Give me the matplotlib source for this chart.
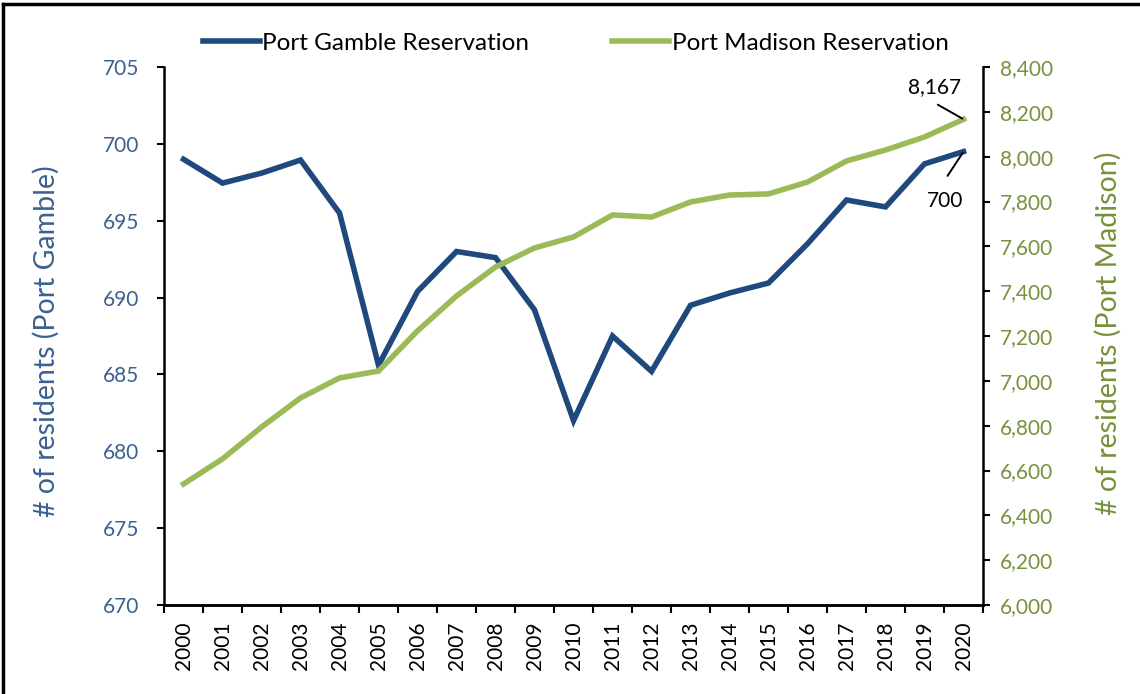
import matplotlib
matplotlib.use("Agg")
import matplotlib.pyplot as plt
from matplotlib.lines import Line2D

plt.rcParams['font.family'] = ['Lato', 'DejaVu Sans']

years = [str(y) for y in range(2000, 2021)]
port_gamble = [699.0, 697.45, 698.1, 698.95, 695.5, 685.6, 690.4, 693.0, 692.6, 689.2,
               682.0, 687.5, 685.2, 689.5, 690.3, 690.95, 693.5, 696.35, 695.9, 698.7, 699.5]
port_madison = [6540, 6652, 6794, 6924, 7013, 7044, 7223, 7379, 7508, 7593,
                7642, 7740, 7731, 7798, 7829, 7834, 7887, 7981, 8030, 8088, 8167]
left_ticks = [670, 675, 680, 685, 690, 695, 700, 705]
right_ticks = list(range(6000, 8401, 200))

blue = '#1F497D'
green = '#9BBB59'
blue_txt = '#3A6190'
green_txt = '#76923C'

fig = plt.figure(figsize=(11.4, 6.94), dpi=100)
ax = fig.add_axes([0.1439, 0.1282, 0.7184, 0.7752])
ax2 = ax.twinx()

x = list(range(len(years)))
ax.plot(x, port_gamble, color=blue, lw=4.0, solid_joinstyle='miter', zorder=3)
ax2.plot(x, port_madison, color=green, lw=4.0, solid_joinstyle='miter', zorder=3)

ax.set_xlim(-0.5, len(years) - 0.5)
ax.set_ylim(670, 705)
ax2.set_ylim(6000, 8400)
ax.set_yticks(left_ticks)
ax2.set_yticks(right_ticks)
ax2.set_yticklabels([f"{v:,}" for v in right_ticks])

ax.set_xticks(x)
ax.set_xticklabels(years, rotation=90, fontsize=15, color='black')
ax.set_xticks([i - 0.5 for i in range(len(years) + 1)], minor=True)
ax.tick_params(axis='x', which='major', length=0, pad=12)
ax.tick_params(axis='x', which='minor', length=6, width=1.5, direction='out')

ax.tick_params(axis='y', length=5, width=1.5, direction='out', labelsize=15, labelcolor=blue_txt, pad=13)
ax2.tick_params(axis='y', length=5, width=1.5, direction='out', labelsize=15, labelcolor=green_txt, pad=7)

for a in (ax, ax2):
    a.spines['top'].set_visible(False)
    for s in ('left', 'right', 'bottom'):
        a.spines[s].set_linewidth(1.8)
ax2.spines['left'].set_visible(False)
ax.spines['right'].set_visible(False)

ax.set_ylabel('# of residents (Port Gamble)', fontsize=20.5, color=blue_txt)
ax2.set_ylabel('# of residents (Port Madison)', fontsize=20.5, color=green_txt)
ax.yaxis.set_label_coords(-0.127, 0.49)
ax2.yaxis.set_label_coords(1.137, 0.505)

# annotations: leader lines and value labels
ax2.annotate('', xy=(x[-1], port_madison[-1]), xytext=(-18.5, 10.5),
             textcoords='offset points',
             arrowprops=dict(arrowstyle='-', color='black', lw=1.4, shrinkA=0, shrinkB=1))
ax2.annotate(f"{port_madison[-1]:,}", xy=(x[-1], port_madison[-1]), xytext=(-21, 19),
             textcoords='offset points', fontsize=15, ha='center', va='baseline')
ax.annotate('', xy=(x[-1], port_gamble[-1]), xytext=(-11.5, -17.5),
            textcoords='offset points',
            arrowprops=dict(arrowstyle='-', color='black', lw=1.4, shrinkA=0, shrinkB=1))
ax.annotate(f"{round(port_gamble[-1])}", xy=(x[-1], port_gamble[-1]), xytext=(-13, -40),
            textcoords='offset points', fontsize=15, ha='center', va='baseline')

handles = [Line2D([], [], color=blue, lw=4.0), Line2D([], [], color=green, lw=4.0)]
fig.legend(handles, ['Port Gamble Reservation', 'Port Madison Reservation'],
           loc='center', bbox_to_anchor=(0.505, 0.938), ncol=2, frameon=False,
           fontsize=17.5, handlelength=2.35, handletextpad=0.1, columnspacing=3.4)

# outer border (top and left visible)
fig.add_artist(Line2D([0.0025, 0.0025], [0, 0.994], transform=fig.transFigure, color='black', lw=2.5))
fig.add_artist(Line2D([0.0025, 1.0], [0.994, 0.994], transform=fig.transFigure, color='black', lw=2.5))

fig.savefig('out.png', dpi=100)
